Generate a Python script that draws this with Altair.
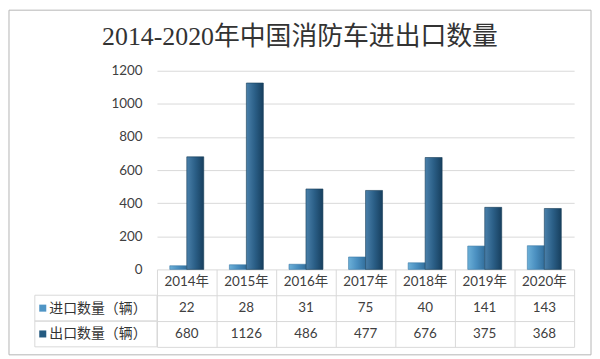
import altair as alt
import pandas as pd

# ---- data ----
years = ["2014年", "2015年", "2016年", "2017年", "2018年", "2019年", "2020年"]
series = ["进口数量（辆）", "出口数量（辆）"]
imports = [22, 28, 31, 75, 40, 141, 143]
exports = [680, 1126, 486, 477, 676, 375, 368]
y_ticks = [0, 200, 400, 600, 800, 1000, 1200]
title_text = "2014-2020年中国消防车进出口数量"
header_key = "年份"

bars_df = pd.DataFrame({
    "year": years * 2,
    "series": [series[0]] * len(years) + [series[1]] * len(years),
    "value": imports + exports,
})

row_keys = [header_key] + series
table_rows = []
for i, yr in enumerate(years):
    table_rows.append({"year": yr, "row": header_key, "label": yr})
    table_rows.append({"year": yr, "row": series[0], "label": str(imports[i])})
    table_rows.append({"year": yr, "row": series[1], "label": str(exports[i])})
table_df = pd.DataFrame(table_rows)
legend_df = pd.DataFrame({"row": series})
frame_df = pd.DataFrame({"k": [0]})

FONT = "Lato, 'Noto Sans CJK SC'"
GRID = "#d9d9d9"
TXT = "#404040"

imp_grad = alt.Gradient(gradient="linear", x1=0, x2=1, y1=0, y2=0,
                        stops=[alt.GradientStop(color="#6cb0d8", offset=0),
                               alt.GradientStop(color="#4a8fc0", offset=0.5),
                               alt.GradientStop(color="#336f9c", offset=1)])
exp_grad = alt.Gradient(gradient="linear", x1=0, x2=1, y1=0, y2=0,
                        stops=[alt.GradientStop(color="#4a80aa", offset=0),
                               alt.GradientStop(color="#2b5f87", offset=0.5),
                               alt.GradientStop(color="#173f5e", offset=1)])

x_enc = alt.X("year:N", sort=years,
              scale=alt.Scale(domain=years, paddingInner=0.43, paddingOuter=0.215),
              axis=None)
xo_enc = alt.XOffset("series:N", sort=series,
                     scale=alt.Scale(domain=series, paddingInner=0, paddingOuter=0))
y_enc = alt.Y("value:Q",
              scale=alt.Scale(domain=[0, 1200], nice=False),
              axis=alt.Axis(values=y_ticks, format="d", title=None, domain=False, ticks=False,
                            labelPadding=15, gridColor=GRID, labelFont=FONT,
                            labelFontSize=13.5, labelColor=TXT))

base_bars = alt.Chart(bars_df).encode(x=x_enc, xOffset=xo_enc, y=y_enc)
imp_bars = base_bars.transform_filter(alt.datum.series == series[0]).mark_bar(
    color=imp_grad, stroke="#3a78a5", strokeWidth=0.6)
exp_bars = base_bars.transform_filter(alt.datum.series == series[1]).mark_bar(
    color=exp_grad, stroke="#163c58", strokeWidth=0.6)

bar_chart = alt.layer(imp_bars, exp_bars).properties(
    width=420, height=200,
    title=alt.TitleParams(title_text, font="'Liberation Serif', 'Noto Sans CJK SC'",
                          fontSize=26, fontWeight="normal", color="#333333",
                          frame="group", anchor="middle", dx=-66, offset=14),
)

# ---- table ----
tx = alt.X("year:N", sort=years,
           scale=alt.Scale(domain=years, paddingInner=0, paddingOuter=0),
           axis=alt.Axis(tickBand="extent", grid=True, gridColor=GRID, labels=False,
                         ticks=False, domain=False, title=None))
ty = alt.Y("row:N", sort=row_keys,
           scale=alt.Scale(domain=row_keys, paddingInner=0, paddingOuter=0),
           axis=alt.Axis(values=series, tickBand="extent", grid=True, gridColor=GRID,
                         ticks=False, domain=False, labelPadding=11, labelFontSize=14,
                         labelFont="'Noto Sans CJK SC'", labelColor="#333333", title=None))

frame = alt.Chart(frame_df).mark_rect(fillOpacity=0, stroke="#b5b5b5", strokeWidth=1).encode(
    x=alt.value(-149), x2=alt.value(437), y=alt.value(-261), y2=alt.value(86))

cells = alt.Chart(legend_df).mark_rect(fillOpacity=0, stroke=GRID, strokeWidth=1).encode(
    y=alt.Y("row:N", sort=row_keys), x=alt.value(-123), x2=alt.value(0))

swatch = alt.Chart(legend_df).mark_square(size=50, opacity=1, strokeWidth=0).encode(
    y=alt.Y("row:N", sort=row_keys), x=alt.value(-115),
    color=alt.Color("row:N", scale=alt.Scale(domain=series, range=["#4f95c5", "#245a80"]),
                    legend=None))

texts = alt.Chart(table_df).mark_text(font=FONT, fontSize=13.5, color=TXT).encode(
    x=tx, y=ty, text="label:N")

table_chart = alt.layer(frame, cells, swatch, texts).properties(width=420, height=78)

chart = alt.vconcat(bar_chart, table_chart, spacing=0, bounds="flush").properties(
    padding=0, background="white"
).configure_view(strokeWidth=0)

chart.save("out.html", embed_options={"renderer": "svg", "actions": False})
